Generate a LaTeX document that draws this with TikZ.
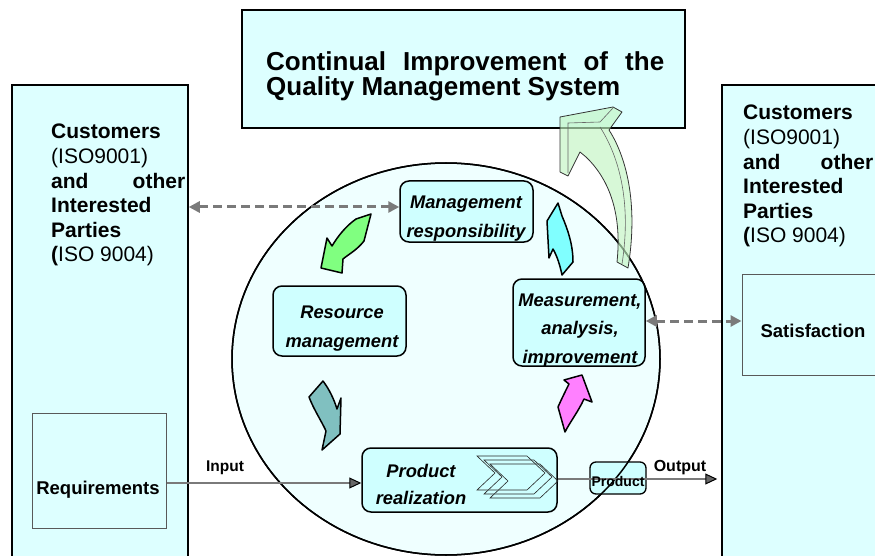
\documentclass[tikz,border=0pt]{standalone}
\usepackage{fontspec}
\setmainfont{Liberation Sans}
\usetikzlibrary{arrows.meta,calc,shapes.geometric}
\definecolor{boxfill}{HTML}{DDFFFF}
\definecolor{ellfill}{HTML}{EFFFFF}
\definecolor{rfill}{HTML}{CFFFFF}
\definecolor{arrgray}{HTML}{7A7A7A}
\definecolor{agreen}{HTML}{80FF80}
\definecolor{acyan}{HTML}{80FFFF}
\definecolor{ateal}{HTML}{80C0C0}
\definecolor{amag}{HTML}{FF80FF}
\definecolor{bigg}{HTML}{C2F5C2}
\begin{document}
\begin{tikzpicture}[x=1pt,y=-1pt,
  bigbox/.style={draw=black, line width=1.5pt, fill=boxfill, inner sep=0, rectangle},
  subbox/.style={draw=black!65, line width=1pt, fill=boxfill, inner sep=0, rectangle},
  rbox/.style={draw=black, line width=1.5pt, fill=rfill, rounded corners=9pt, inner sep=0, rectangle},
  txt/.style={inner sep=0, anchor=base},
  dasharrow/.style={draw=arrgray, line width=3pt, dash pattern=on 9pt off 5pt,
     {Triangle[length=11pt,width=11pt,fill=arrgray,color=arrgray]}-{Triangle[length=11pt,width=11pt,fill=arrgray,color=arrgray]}},
  flowline/.style={draw=arrgray, line width=2.5pt,
     -{Triangle[length=12pt,width=11pt,fill=black!60,color=black,line width=1pt]}},
  blockarrow/.style={draw=black, line width=1.5pt, line join=round}
]
\useasboundingbox (0,0) rectangle (875,556);
\clip (0,0) rectangle (875,556);

% outer boxes
\node[bigbox, minimum width=176pt, minimum height=515pt] (lbox) at (100,342.5) {};
\node[bigbox, minimum width=180pt, minimum height=515pt] (rbox) at (812,342.5) {};
\node[bigbox, minimum width=443pt, minimum height=118pt] (title) at (463.5,69) {};

% big circle
\node[draw=black, line width=1.5pt, fill=ellfill, ellipse, minimum width=428pt, minimum height=392pt, inner sep=0] (circ) at (446,359) {};

% sub boxes
\node[subbox, minimum width=134pt, minimum height=115pt] (req) at (99,470.5) {};
\node[subbox, minimum width=163pt, minimum height=101pt] (sat) at (823.5,324.5) {};

% rounded process boxes
\node[rbox, minimum width=133pt, minimum height=61pt] (mgmt) at (466.5,211.5) {};
\node[rbox, minimum width=133pt, minimum height=70pt] (res) at (339.5,321) {};
\node[rbox, minimum width=132pt, minimum height=87pt] (meas) at (579,322.5) {};
\node[rbox, minimum width=195pt, minimum height=64pt] (prod) at (459.5,480) {};
\node[rbox, line width=1.3pt, rounded corners=6pt, minimum width=56pt, minimum height=32pt] (pbox) at (618,478) {};

% circle outline over the product box
\draw[line width=1.5pt] (circ.center) ellipse [x radius=214pt, y radius=196pt];

% chevrons inside product realization
\foreach \dx/\dy in {0/0,7/4,13/8}{
  \draw[line width=0.6pt, black!85] (477+\dx,456+\dy) -- (527+\dx,456+\dy) -- (545+\dx,473+\dy)
     -- (527+\dx,490+\dy) -- (477+\dx,490+\dy) -- (495+\dx,473+\dy) -- cycle;
}

% connectors
\coordinate (d1) at ([yshift=4.5pt]mgmt.west);
\draw[dasharrow] (d1 -| lbox.east) -- (d1);
\coordinate (d2) at ([yshift=1.5pt]meas.east);
\draw[dasharrow] (d2) -- (d2 -| sat.west);
\coordinate (i1) at ([yshift=-3pt]prod.west);
\draw[flowline] (i1 -| req.east) -- (i1);
\coordinate (o1) at ([yshift=1pt]prod.east);
\draw[flowline, shorten >=4pt] (o1) -- (o1 -| rbox.west);

% curved block arrows
\path[blockarrow, fill=agreen] (371,214) -- (364,241) .. controls (357,250) and (349,254) .. (343,259)
  -- (342,273) -- (321,268) -- (327,238) -- (332,246) .. controls (338,236) and (346,226) .. (356,219) -- cycle;
\path[blockarrow, fill=acyan] (558,203) -- (562,216) .. controls (568,230) and (573,245) .. (573,262)
  -- (562,275) .. controls (560,265) and (557,256) .. (553,249) -- (549,258) -- (547,221) -- cycle;
\path[blockarrow, fill=ateal] (323,381) -- (309,397) .. controls (314,410) and (322,422) .. (326,431)
  -- (322,450) -- (340,434) -- (341,398) -- (337,409) .. controls (334,399) and (329,389) .. (323,381) -- cycle;
\path[blockarrow, fill=amag] (582,375) -- (592,402) -- (584,399) .. controls (578,412) and (570,422) .. (565,432)
  -- (558,407) .. controls (562,398) and (566,390) .. (569,384) -- (564,380) -- cycle;

% big translucent improvement arrow
\path[draw=black!80, line width=0.8pt, fill=bigg, fill opacity=0.65, line join=round]
  (560,117) -- (613,107) -- (622,112) -- (609,130)
  .. controls (622,150) and (640,195) .. (628,268) -- (617,262)
  .. controls (622,215) and (610,180) .. (586,157) -- (580,152) -- (568,176) -- (560,172) -- cycle;
\draw[black!60, line width=0.6pt] (568,173) -- (568,123) -- (600,122) -- (613,108);
\draw[black!60, line width=0.6pt] (600,127) .. controls (618,155) and (632,200) .. (622,264);

% texts
\node[txt, anchor=base west] (titleT) at (266,71) {\parbox[t]{398pt}{\fontsize{26}{25}\selectfont\bfseries
  \makebox[398pt][s]{Continual Improvement of the}\\Quality Management System}};
\node[txt, anchor=base west] (lT) at (51,139) {\parbox[t]{134pt}{\fontsize{21}{24.6}\selectfont
  \textbf{Customers}\\(ISO9001)\\\makebox[134pt][s]{\bfseries and other}\\\textbf{Interested}\\\textbf{Parties}\\\textbf{(}ISO 9004)}};
\node[txt, anchor=base west] (rT) at (743,120) {\parbox[t]{130pt}{\fontsize{21}{24.6}\selectfont
  \textbf{Customers}\\(ISO9001)\\\makebox[130pt][s]{\bfseries and other}\\\textbf{Interested}\\\textbf{Parties}\\\textbf{(}ISO 9004)}};
\node[txt] (reqT) at (98,494) {\fontsize{18.5}{20}\selectfont\bfseries Requirements};
\node[txt] (satT) at (813,337) {\fontsize{18.5}{20}\selectfont\bfseries Satisfaction};
\node[txt] (mgmtT) at (466,208) {\parbox[t]{150pt}{\centering\fontsize{18.3}{29}\selectfont\bfseries\itshape Management\\responsibility}};
\node[txt] (resT) at (342,318) {\parbox[t]{150pt}{\centering\fontsize{18.3}{29}\selectfont\bfseries\itshape Resource\\management}};
\node[txt] (measT) at (580,306) {\parbox[t]{150pt}{\centering\fontsize{18.3}{28.5}\selectfont\bfseries\itshape Measurement,\\analysis,\\improvement}};
\node[txt] (prodT) at (421,477) {\parbox[t]{150pt}{\centering\fontsize{18.3}{27}\selectfont\bfseries\itshape Product\\realization}};
\node[txt] (pboxT) at (618,486) {\fontsize{14}{15}\selectfont\bfseries Product};
\node[txt] (inT) at (225,471) {\fontsize{15.5}{17}\selectfont\bfseries Input};
\node[txt] (outT) at (680,471) {\fontsize{16}{17}\selectfont\bfseries Output};
\end{tikzpicture}
\end{document}
